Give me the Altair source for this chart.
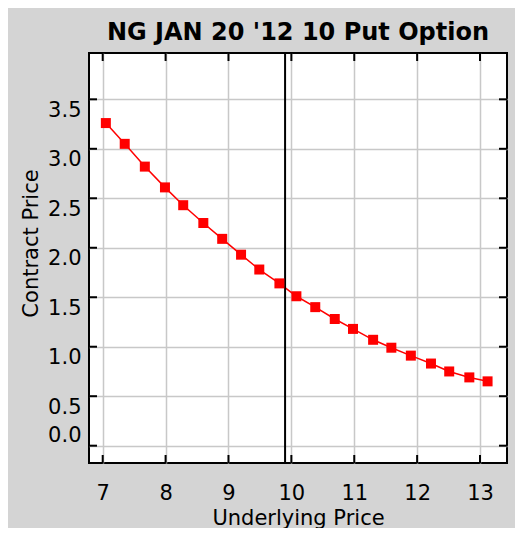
import altair as alt
import pandas as pd

# --- data ---
underlying = [7.05, 7.35, 7.67, 7.99, 8.28, 8.60, 8.90, 9.20, 9.49, 9.81, 10.08,
              10.38, 10.69, 10.98, 11.30, 11.59, 11.90, 12.22, 12.51, 12.83, 13.12]
contract = [3.26, 3.05, 2.82, 2.61, 2.43, 2.25, 2.09, 1.93, 1.78, 1.64, 1.51,
            1.40, 1.28, 1.18, 1.07, 0.99, 0.91, 0.83, 0.75, 0.69, 0.65]
current_price = [9.9]
x_ticks = [7, 8, 9, 10, 11, 12, 13]
y_ticks = [0.0, 0.5, 1.0, 1.5, 2.0, 2.5, 3.0, 3.5]

title_text = "NG JAN 20 '12 10 Put Option"
x_title = "Underlying Price"
y_title = "Contract Price"

W, H = 418, 410
FONT = "DejaVu Sans"
TICK = 8

df = pd.DataFrame({"x": underlying, "y": contract})
cur = pd.DataFrame({"x": current_price})
xt = pd.DataFrame({"x": x_ticks})
yt = pd.DataFrame({"y": y_ticks})

xscale = alt.Scale(domain=[6.782, 13.429], nice=False, zero=False)
yscale = alt.Scale(domain=[-0.175, 3.968], nice=False, zero=False)

xaxis = alt.Axis(
    title=x_title, values=x_ticks, format="d", grid=True, gridColor="#c8c8c8",
    gridWidth=1.5, gridOpacity=1, ticks=False, tickSize=0, domain=False,
    labelFont=FONT, labelFontSize=21, labelColor="black", labelPadding=19,
    labelBaseline="top",
    titleFont=FONT, titleFontSize=21, titleFontWeight="normal", titleColor="black",
    titleBaseline="alphabetic", titleY=61, titleAlign="center",
)
yaxis = alt.Axis(
    title=y_title, values=y_ticks, format=".1f", grid=True, gridColor="#c8c8c8",
    gridWidth=1.5, gridOpacity=1, ticks=False, tickSize=0, domain=False,
    labelFont=FONT, labelFontSize=21, labelColor="black", labelPadding=8,
    labelBaseline={"condition": {"test": "datum.value == 0", "value": "bottom"}, "value": "top"},
    titleFont=FONT, titleFontSize=21, titleFontWeight="normal", titleColor="black",
    titleAngle=270, titleBaseline="alphabetic", titleAlign="center",
    titleX=-52, titleY=190,
)

X = alt.X("x:Q", scale=xscale, axis=xaxis)
Y = alt.Y("y:Q", scale=yscale, axis=yaxis)

line = alt.Chart(df).mark_line(color="#ff0000", strokeWidth=1.5).encode(x=X, y=Y)
pts = alt.Chart(df).mark_point(shape="square", size=100, filled=True,
                               color="#ff0000", opacity=1).encode(x=X, y=Y)
vline = alt.Chart(cur).mark_rule(color="black", strokeWidth=2).encode(x=X)
tick_bottom = alt.Chart(xt).mark_rule(color="black", strokeWidth=2).encode(
    x=X, y=alt.value(H), y2=alt.value(H - TICK),
)
tick_top = alt.Chart(xt).mark_rule(color="black", strokeWidth=2).encode(
    x=X, y=alt.value(0), y2=alt.value(TICK),
)
tick_left = alt.Chart(yt).mark_rule(color="black", strokeWidth=2).encode(
    y=Y, x=alt.value(0), x2=alt.value(TICK),
)
tick_right = alt.Chart(yt).mark_rule(color="black", strokeWidth=2).encode(
    y=Y, x=alt.value(W - TICK), x2=alt.value(W),
)

chart = alt.layer(
    line, tick_bottom, tick_top, tick_left, tick_right, vline, pts
).properties(
    width=W, height=H,
    autosize="none",
    padding={"left": 81, "top": 45, "right": 8, "bottom": 65},
    background="#d4d4d4",
    title=alt.TitleParams(
        text=title_text, font=FONT, fontSize=24, fontWeight="bold",
        color="black", anchor="middle", frame="group",
        baseline="alphabetic", offset=-12,
    ),
).configure_view(
    stroke="black", strokeWidth=2, fill="white"
)

chart.save("out.html", embed_options={"renderer": "svg", "actions": False})
